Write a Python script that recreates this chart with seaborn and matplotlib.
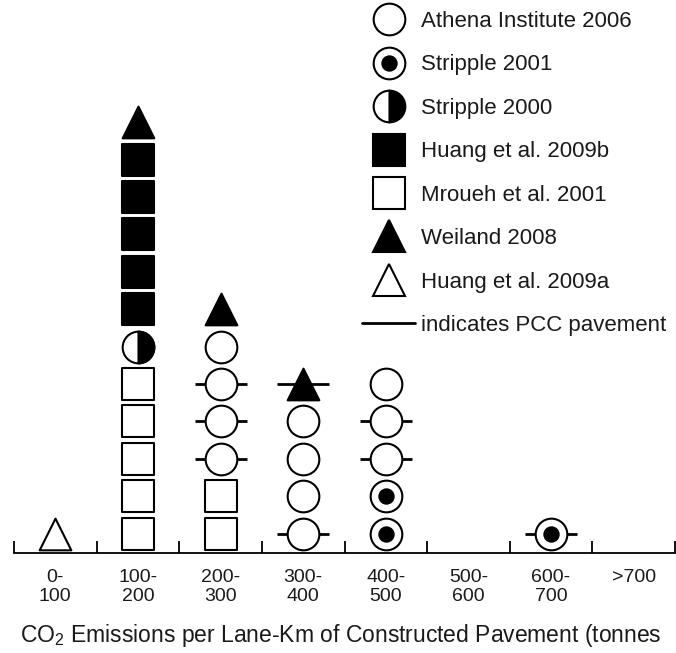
import numpy as np
import pandas as pd
import matplotlib
matplotlib.use("Agg")
import matplotlib.pyplot as plt
from matplotlib.lines import Line2D
from matplotlib.markers import MarkerStyle
from matplotlib.legend_handler import HandlerTuple
import seaborn as sns

# ---------------- data ----------------
bin_labels = ["0-\n100", "100-\n200", "200-\n300", "300-\n400",
              "400-\n500", "500-\n600", "600-\n700", ">700"]

studies = ["Athena Institute 2006", "Stripple 2001", "Stripple 2000",
           "Huang et al. 2009b", "Mroueh et al. 2001", "Weiland 2008",
           "Huang et al. 2009a"]

# one entry per study result, stacked bottom-to-top within each bin
point_bin = [0,
             1, 1, 1, 1, 1, 1, 1, 1, 1, 1, 1, 1,
             2, 2, 2, 2, 2, 2, 2,
             3, 3, 3, 3, 3,
             4, 4, 4, 4, 4,
             6]
point_study = ["Huang et al. 2009a",
               "Mroueh et al. 2001", "Mroueh et al. 2001", "Mroueh et al. 2001",
               "Mroueh et al. 2001", "Mroueh et al. 2001", "Stripple 2000",
               "Huang et al. 2009b", "Huang et al. 2009b", "Huang et al. 2009b",
               "Huang et al. 2009b", "Huang et al. 2009b", "Weiland 2008",
               "Mroueh et al. 2001", "Mroueh et al. 2001", "Athena Institute 2006",
               "Athena Institute 2006", "Athena Institute 2006", "Athena Institute 2006",
               "Weiland 2008",
               "Athena Institute 2006", "Athena Institute 2006", "Athena Institute 2006",
               "Athena Institute 2006", "Weiland 2008",
               "Stripple 2001", "Stripple 2001", "Athena Institute 2006",
               "Athena Institute 2006", "Athena Institute 2006",
               "Stripple 2001"]
point_pcc = [0,
             0, 0, 0, 0, 0, 0, 0, 0, 0, 0, 0, 0,
             0, 0, 1, 1, 1, 0, 0,
             1, 0, 0, 0, 1,
             0, 0, 1, 1, 0,
             1]

xlabel_text = r"CO$_{\mathregular{2}}$ Emissions per Lane-Km of Constructed Pavement (tonnes"
pcc_label = "indicates PCC pavement"

# ---------------- styling ----------------
sns.set_theme(style="white")
plt.rcParams["font.family"] = ["Liberation Sans", "DejaVu Sans"]
TXT = "#1a1a1a"

fig = plt.figure(figsize=(6.76, 6.53), dpi=100)
ax = fig.add_axes([14 / 676, 100 / 653, 661 / 676, 553 / 653])

df = pd.DataFrame({"bin": point_bin, "study": point_study, "pcc": point_pcc})
df["x"] = df["bin"] + 0.5
df["level"] = df.groupby("bin").cumcount()

MS = 22.8      # marker size in points
S = MS ** 2
LW = 1.5
DOT = 11.8

styles = {
    "Athena Institute 2006": ("o", "white"),
    "Stripple 2001": ("o", "white"),
    "Stripple 2000": ("o", "white"),
    "Huang et al. 2009b": ("s", "black"),
    "Mroueh et al. 2001": ("s", "white"),
    "Weiland 2008": ("^", "black"),
    "Huang et al. 2009a": ("^", "white"),
}

# PCC pavement bars behind the symbols
pcc_df = df[df["pcc"] == 1]
sns.scatterplot(data=pcc_df, x="x", y="level", marker="_", s=37.5 ** 2,
                color="black", linewidth=2.0, ax=ax, legend=False, zorder=1)

for st in studies:
    sub = df[df["study"] == st]
    if sub.empty:
        continue
    m, fc = styles[st]
    sns.scatterplot(data=sub, x="x", y="level", marker=m, s=S, color=fc,
                    edgecolor="black", linewidth=LW, ax=ax, legend=False,
                    zorder=2)
    if st == "Stripple 2001":
        sns.scatterplot(data=sub, x="x", y="level", marker="o", s=DOT ** 2,
                        color="black", edgecolor="black", linewidth=0,
                        ax=ax, legend=False, zorder=3)
    if st == "Stripple 2000":
        sns.scatterplot(data=sub, x="x", y="level",
                        marker=MarkerStyle("o", fillstyle="right"), s=S,
                        color="black", edgecolor="black", linewidth=LW,
                        ax=ax, legend=False, zorder=3)

# axes cosmetics
ax.set_xlim(0, 8)
ax.set_ylim(-0.521, 14.265)
ax.set_xticks(range(9))
ax.set_xticklabels([])
ax.set_xticks(np.arange(8) + 0.5, minor=True)
ax.set_xticklabels(bin_labels, minor=True)
ax.set_yticks([])
ax.set_xlabel("")
ax.set_ylabel("")
ax.tick_params(axis="x", which="major", direction="in", length=9, width=1.3,
               color="black", bottom=True)
ax.tick_params(axis="x", which="minor", length=0, pad=11.5, labelsize=14,
               labelcolor=TXT, bottom=True)
for t in ax.get_xticklabels(minor=True):
    t.set_linespacing(1.15)
sns.despine(ax=ax, left=True, top=True, right=True)
ax.spines["bottom"].set_color("black")
ax.spines["bottom"].set_linewidth(1.3)
ax.patch.set_alpha(0)

fig.text(20 / 676, (653 - 641.7) / 653, xlabel_text, ha="left", va="baseline",
         fontsize=16.5, color=TXT)

# legend
def mk(marker, fc, **kw):
    return Line2D([], [], marker=marker, ms=MS, mfc=fc, mec="black", mew=LW,
                  ls="none", **kw)

h_athena = mk("o", "white")
h_s01 = (mk("o", "white"),
         Line2D([], [], marker="o", ms=DOT, mfc="black", mec="black", mew=0, ls="none"))
h_s00 = Line2D([], [], marker="o", ms=MS, fillstyle="right", mfc="black",
               mfcalt="white", mec="black", mew=LW, ls="none")
h_h09b = mk("s", "black")
h_m01 = mk("s", "white")
h_w08 = mk("^", "black")
h_h09a = mk("^", "white")
h_pcc = Line2D([], [], color="black", lw=2.0)

handles = [h_athena, h_s01, h_s00, h_h09b, h_m01, h_w08, h_h09a, h_pcc]
labels = studies + [pcc_label]
leg = ax.legend(handles, labels, loc="upper left",
                bbox_to_anchor=(362 / 676, 1 - 11 / 653),
                bbox_transform=fig.transFigure, frameon=False,
                borderpad=0, borderaxespad=0, fontsize=16,
                handlelength=2.39, handletextpad=0.27, labelspacing=1.01,
                handler_map={tuple: HandlerTuple(ndivide=1)})
for t in leg.get_texts():
    t.set_color(TXT)

fig.savefig("out.png", dpi=100, facecolor="white")
